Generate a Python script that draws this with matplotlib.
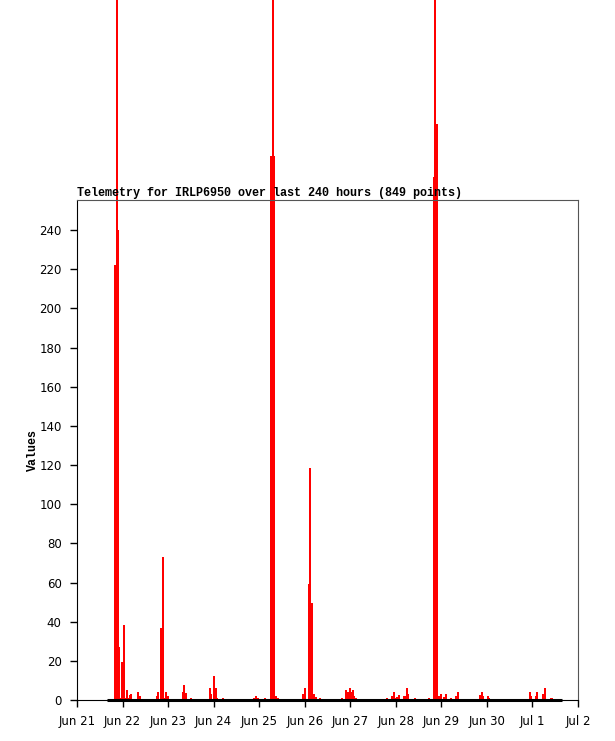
# telemetry chart for IRLP6950, last 240 hours
import matplotlib
matplotlib.use('Agg')
import matplotlib.pyplot as plt

# hours since Jun 21 00:00 and the value of each bar
hours = [20.1, 20.9, 21.4, 22.3, 23.0, 23.8, 24.8, 25.8, 26.4, 27.2, 27.7, 28.5, 32.2, 33.0,
         42.0, 42.8, 44.5, 45.4, 46.2, 47.0, 47.8, 55.7, 56.5, 57.3, 60.2,
         70.0, 70.8, 72.3, 73.1, 73.9, 77.1, 93.5, 94.5, 95.3, 99.3,
         102.2, 103.2, 104.0, 105.1, 105.9,
         119.0, 119.9, 122.2, 123.0, 123.8, 125.1, 125.9, 127.8,
         139.9, 142.0, 142.8, 143.6, 144.4, 145.2, 146.0, 146.8,
         163.2, 165.8, 166.8, 167.6, 168.4, 169.5, 172.1, 172.9, 173.7, 174.5, 178.0, 185.3,
         188.0, 188.8, 189.6, 190.9, 191.7, 193.5, 194.3, 196.9, 199.6, 200.6,
         212.5, 213.3, 214.1, 216.5, 217.3,
         238.7, 239.4, 241.8, 242.6, 245.8, 246.6, 249.7, 250.5]
values = [222, 400, 240, 27, 1, 19.5, 38.5, 1, 5, 1, 2.5, 3, 4, 2,
          2, 4, 37, 73, 1, 4, 2, 4, 7.5, 3.5, 1,
          6, 3, 12.5, 6, 1, 1, 1, 2, 1, 1,
          278, 400, 278, 2, 1,
          3, 6, 59, 118.5, 49.5, 3, 1.5, 1,
          1, 5, 4, 6, 4, 5, 2, 1,
          1, 2, 4, 1, 1.5, 2.5, 2, 2, 6, 3, 1, 1,
          267, 400, 294, 2, 3, 1.5, 3, 1, 2, 4,
          2.5, 4, 2, 2, 1,
          4, 2, 2, 4, 3, 6, 1, 1]

# span of the data (240 hours)
start_h = 15.8
end_h = 255.8

day_labels = ['Jun 21', 'Jun 22', 'Jun 23', 'Jun 24', 'Jun 25', 'Jun 26',
              'Jun 27', 'Jun 28', 'Jun 29', 'Jun 30', 'Jul 1', 'Jul 2']
day_ticks = [24 * i for i in range(len(day_labels))]

fig = plt.figure(figsize=(6.15, 7.41), dpi=100)
ax = fig.add_axes([77 / 615, 41 / 741, 501 / 615, 500 / 741])

# bars are allowed to run off the top like the original
ax.bar(hours, values, width=1.05, color='#ff0000', linewidth=0, clip_on=False, zorder=2)
ax.plot([start_h, end_h], [0, 0], color='black', linewidth=2.2, clip_on=False, zorder=3,
        solid_capstyle='butt')

ax.set_xlim(0, 264)
ax.set_ylim(0, 255.4)
ax.set_xticks(day_ticks)
ax.set_xticklabels(day_labels)
ax.set_yticks(range(0, 241, 20))

ax.tick_params(direction='out', length=5, width=1, labelsize=8.5, colors='black', pad=6)
for lab in ax.get_xticklabels() + ax.get_yticklabels():
    lab.set_family('DejaVu Sans')

ax.spines['left'].set_color('black')
ax.spines['bottom'].set_color('black')
ax.spines['top'].set_color('#555555')
ax.spines['right'].set_color('#555555')

ax.set_ylabel('Values', fontfamily='Liberation Mono', fontweight='bold', fontsize=8.4, labelpad=0)
fig.text(77 / 615, 1 - 196 / 741, 'Telemetry for IRLP6950 over last 240 hours (849 points)',
         fontfamily='Liberation Mono', fontweight='bold', fontsize=8.45, ha='left', va='baseline')

fig.savefig('out.png', dpi=100)
